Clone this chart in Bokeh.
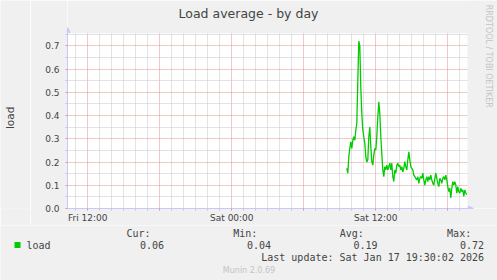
import pandas as pd
from bokeh.plotting import figure
from bokeh.layouts import column, row
from bokeh.models import (Label, FixedTicker, PrintfTickFormatter, Arrow,
                          NormalHead, ColumnDataSource, BoxAnnotation, Range1d)
from bokeh.embed import file_html
from bokeh.resources import INLINE

# ---------------- data ----------------
title_text = "Load average - by day"
y_label = "load"
series_name = "load"
start_time = "2026-01-17 09:35"
sample_step = "5min"
load = [0.173, 0.152, 0.223, 0.259, 0.287, 0.259, 0.294, 0.309, 0.294, 0.337,
        0.366, 0.55, 0.72, 0.70, 0.52, 0.409, 0.337, 0.31, 0.28, 0.223,
        0.20, 0.21, 0.309, 0.351, 0.266, 0.202, 0.187, 0.23, 0.259, 0.252,
        0.309, 0.395, 0.459, 0.409, 0.309, 0.237, 0.166, 0.137, 0.180, 0.166,
        0.187, 0.166, 0.180, 0.195, 0.166, 0.195, 0.137, 0.116, 0.166, 0.152,
        0.187, 0.195, 0.180, 0.187, 0.166, 0.180, 0.158, 0.173, 0.202, 0.180,
        0.166, 0.209, 0.244, 0.209, 0.180, 0.173, 0.166, 0.144, 0.137, 0.130,
        0.123, 0.137, 0.108, 0.130, 0.137, 0.130, 0.152, 0.123, 0.101, 0.123,
        0.137, 0.116, 0.137, 0.123, 0.144, 0.123, 0.108, 0.101, 0.130, 0.152,
        0.130, 0.108, 0.094, 0.130, 0.123, 0.108, 0.130, 0.137, 0.123, 0.144,
        0.123, 0.094, 0.073, 0.087, 0.045, 0.087, 0.116, 0.101, 0.116, 0.101,
        0.066, 0.094, 0.073, 0.066, 0.087, 0.073, 0.080, 0.052, 0.080, 0.066,
        0.06]
x_tick_hours = [12, 18, 24, 30, 36, 42]
x_tick_labels = ["Fri 12:00", "", "Sat 00:00", "", "Sat 12:00", ""]
y_ticks = [0.0, 0.1, 0.2, 0.3, 0.4, 0.5, 0.6, 0.7]
y_minor = [0.05, 0.15, 0.25, 0.35, 0.45, 0.55, 0.65, 0.75]
stat_names = ["Cur:", "Min:", "Avg:", "Max:"]
stat_values = ["0.06", "0.04", "0.19", "0.72"]
last_update = "Last update: Sat Jan 17 19:30:02 2026"
version_text = "Munin 2.0.69"
side_text = "RRDTOOL / TOBI OETIKER"

# time axis in hours since Fri 2026-01-16 00:00
t0 = pd.Timestamp("2026-01-16 00:00")
times = pd.date_range(start_time, periods=len(load), freq=sample_step)
hours = ((times - t0) / pd.Timedelta(hours=1)).tolist()

# ---------------- layout constants ----------------
W = 497
H_MAIN, H_LEG = 225, 55
LEFT_W = 30                 # strip holding the rotated unit label
FL, FB = 67, 209            # frame left / bottom in page pixels
DATA_R, DATA_T = 467, 33    # visible data area right / top
PX_PER_H = 12.0
PX_PER_UNIT = 233.4
X0 = 10.308
X1 = X0 + (W - FL) / PX_PER_H
Y1 = FB / PX_PER_UNIT


def dx(px):
    return X0 + (px - FL) / PX_PER_H


def dy(py):
    return (FB - py) / PX_PER_UNIT


def same(v):
    return v


BG = "#f0f0f0"
AXIS_C = "#c8c8ff"
MAJ_C = "#e39393"
MIN_C = "#c6c6c6"
TXT_C = "#444444"
FAINT = "#c4c4c4"
SANS = "DejaVu Sans"
MONO = "DejaVu Sans Mono"


def lab(fig, conv_x, conv_y, text, px, py, size, font=SANS, color=TXT_C,
        align="left", angle=0.0):
    fig.add_layout(Label(x=conv_x(px), y=conv_y(py), text=text, text_font=font,
                         text_font_size=size, text_color=color,
                         text_align=align, text_baseline="middle", angle=angle))


def blank(width, height, y_top):
    f = figure(width=width, height=height, output_backend="svg",
               toolbar_location=None, x_range=Range1d(0, width),
               y_range=Range1d(y_top + height, y_top),
               x_axis_type=None, y_axis_type=None, title=None, min_border=0)
    f.background_fill_color = BG
    f.border_fill_color = BG
    f.outline_line_color = None
    f.grid.visible = False
    return f


# ---------------- main chart ----------------
p = figure(width=W - LEFT_W, height=H_MAIN, output_backend="svg",
           toolbar_location=None,
           x_range=Range1d(X0, X1), y_range=Range1d(0, Y1), title=None,
           min_border_left=FL - LEFT_W, min_border_right=0,
           min_border_top=0, min_border_bottom=H_MAIN - FB)
p.background_fill_color = "white"
p.border_fill_color = BG
p.outline_line_color = None

minor_hours = [h for h in range(11, 44) if h not in x_tick_hours]
p.xaxis.ticker = FixedTicker(ticks=x_tick_hours, minor_ticks=minor_hours)
p.xaxis.major_label_overrides = {h: t for h, t in zip(x_tick_hours, x_tick_labels)}
p.yaxis.ticker = FixedTicker(ticks=y_ticks, minor_ticks=y_minor)
p.yaxis.formatter = PrintfTickFormatter(format="%.1f")
p.xaxis.bounds = (X0, dx(472))
p.yaxis.bounds = (0, dy(28))

for ax in (p.xaxis[0], p.yaxis[0]):
    ax.axis_line_color = AXIS_C
    ax.axis_line_width = 1
    ax.major_tick_out = 2
    ax.major_tick_in = 0
    ax.major_tick_line_color = MAJ_C
    ax.minor_tick_out = 2
    ax.minor_tick_in = 0
    ax.minor_tick_line_color = MIN_C
    ax.major_label_text_font = SANS
    ax.major_label_text_font_size = "9px"
    ax.major_label_text_color = TXT_C
p.xaxis.major_label_standoff = 2
p.yaxis.major_label_standoff = 6

for g in (p.xgrid[0], p.ygrid[0]):
    g.grid_line_color = MAJ_C
    g.grid_line_dash = "1 1"
    g.grid_line_width = 1
    g.minor_grid_line_color = MIN_C
    g.minor_grid_line_dash = "1 1"
    g.minor_grid_line_width = 1

# grey strips outside the data area (frame reaches the canvas edge)
p.add_layout(BoxAnnotation(left=dx(DATA_R), right=X1, bottom=0, top=Y1,
                           fill_color=BG, fill_alpha=1, line_color=None,
                           level="underlay"))
p.add_layout(BoxAnnotation(left=X0, right=X1, bottom=dy(DATA_T), top=Y1,
                           fill_color=BG, fill_alpha=1, line_color=None,
                           level="underlay"))

src = ColumnDataSource(dict(x=hours, y=load))
p.line("x", "y", source=src, line_color="#00cc00", line_width=1.3)

# axis arrow heads
p.add_layout(Arrow(x_start=X0, y_start=dy(31), x_end=X0, y_end=dy(27),
                   line_color=AXIS_C, line_width=1,
                   end=NormalHead(size=5, fill_color=AXIS_C, line_color=AXIS_C)))
p.add_layout(Arrow(x_start=dx(469), y_start=0, x_end=dx(473), y_end=0,
                   line_color=AXIS_C, line_width=1,
                   end=NormalHead(size=5, fill_color=AXIS_C, line_color=AXIS_C)))

lab(p, dx, dy, title_text, 248, 13.5, "12.5px", align="center")
lab(p, dx, dy, side_text, 488, 56, "8px", color=FAINT, align="center", angle=-1.5708)

# ---------------- unit label strip ----------------
u = blank(LEFT_W, H_MAIN, 0)
lab(u, same, same, y_label, 9.5, 127, "10.5px", align="center", angle=1.5708)

# ---------------- legend strip ----------------
q = blank(W, H_LEG, H_MAIN)
q.add_layout(BoxAnnotation(left=14, right=20, top=241.5, bottom=247.5,
                           fill_color="#00cc00", fill_alpha=1, line_color=None))
lab(q, same, same, series_name, 26, 244.5, "10px", font=MONO)
head_x = [126.0, 232.8, 339.3, 446.6]
val_right = [163.5, 270.5, 377.0, 483.5]
for name, val, hx, vr in zip(stat_names, stat_values, head_x, val_right):
    lab(q, same, same, name, hx, 233, "10px", font=MONO)
    lab(q, same, same, val, vr, 244.5, "10px", font=MONO, align="right")
lab(q, same, same, last_update, 483.5, 256.5, "10px", font=MONO, align="right")
lab(q, same, same, version_text, 248.5, 269.5, "8px", color=FAINT, align="center")

layout = column(row(u, p, spacing=0), q, spacing=0)
open("out.html", "w").write(file_html(layout, INLINE))
